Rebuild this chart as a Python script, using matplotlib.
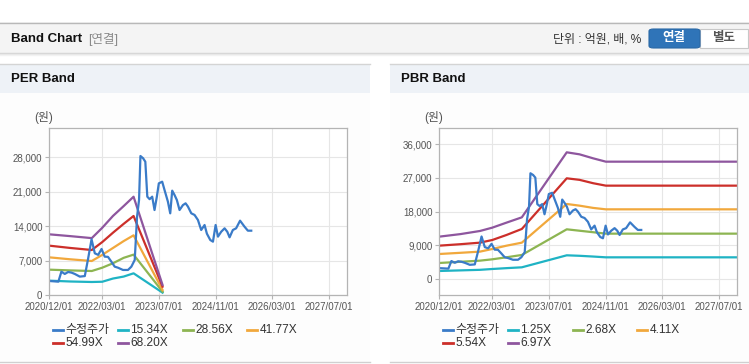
import matplotlib.pyplot as plt
import matplotlib.dates as mdates
from matplotlib.patches import Rectangle, FancyBboxPatch
from matplotlib.lines import Line2D
from matplotlib.ticker import FuncFormatter
import pandas as pd

plt.rcParams['font.family'] = ['Liberation Sans', 'Noto Sans CJK KR', 'DejaVu Sans']

# ---- data ----
price_dates = [
    "2020-12-01", "2021-02-17", "2021-03-15", "2021-04-13", "2021-05-12", "2021-06-10",
    "2021-07-08", "2021-08-20", "2021-10-02", "2021-10-31", "2021-11-29", "2021-12-27",
    "2022-01-25", "2022-02-23", "2022-03-22", "2022-04-19", "2022-05-18", "2022-06-16",
    "2022-07-14", "2022-08-26", "2022-10-08", "2022-11-06", "2022-12-05", "2022-12-25",
    "2023-01-11", "2023-01-23", "2023-02-15", "2023-03-06", "2023-03-23", "2023-04-12",
    "2023-05-04", "2023-05-24", "2023-06-13", "2023-06-30", "2023-07-29", "2023-08-18",
    "2023-09-16", "2023-10-06", "2023-10-23", "2023-11-12", "2023-12-02", "2023-12-25",
    "2024-01-23", "2024-02-15", "2024-03-06", "2024-04-04", "2024-05-02", "2024-05-31",
    "2024-06-28", "2024-07-27", "2024-08-16", "2024-09-14", "2024-10-07", "2024-10-30",
    "2024-11-19", "2024-12-17", "2025-01-15", "2025-02-07", "2025-02-27", "2025-03-27",
    "2025-04-24", "2025-05-28", "2025-07-05", "2025-08-03", "2025-09-01",
]
price_values = [
    2900, 2770, 4800, 4330, 4730, 4600,
    4330, 3790, 3900, 7500, 11360, 8520,
    8200, 9400, 7840, 7800, 6830, 5810,
    5600, 5140, 5140, 5810, 7170, 15950,
    19330, 28260, 27800, 27100, 20010, 19500,
    20010, 17300, 20010, 22710, 23050, 21360,
    19000, 16630, 21230, 20350, 19330, 17300,
    18300, 18660, 18000, 16630, 16300, 15280,
    13250, 14260, 12500, 11220, 10880, 14260,
    11900, 12900, 13590, 12900, 11760, 13250,
    13590, 15140, 13930, 13110, 13110,
]

per_labels = ["15.34X", "28.56X", "41.77X", "54.99X", "68.20X"]
per_dates = ["2020-12-01", "2021-06-01", "2021-12-01", "2022-03-01", "2022-06-01",
             "2022-09-01", "2022-11-25", "2023-08-01"]
per_values = [
    [2970, 2800, 2700, 2750, 3400, 3800, 4460, 540],
    [5200, 5050, 4930, 5600, 6500, 7600, 8250, 740],
    [7700, 7300, 6960, 8200, 9600, 11000, 12170, 1080],
    [10070, 9600, 9190, 10800, 12700, 14500, 16090, 1760],
    [12370, 12000, 11600, 13700, 16100, 18100, 20000, 2100],
]

pbr_labels = ["1.25X", "2.68X", "4.11X", "5.54X", "6.97X"]
pbr_dates = ["2020-12-01", "2021-06-01", "2021-11-15", "2022-03-01", "2022-07-01",
             "2022-11-10", "2023-12-01", "2024-03-20", "2024-07-15", "2024-11-01",
             "2027-12-01"]
pbr_values = [
    [2140, 2300, 2450, 2670, 2900, 3120, 6330, 6200, 6000, 5790, 5790],
    [4280, 4600, 4900, 5260, 5800, 6420, 13280, 12900, 12500, 12120, 12120],
    [6680, 7000, 7310, 8020, 8900, 9710, 20050, 19600, 19000, 18620, 18620],
    [8910, 9300, 9710, 10420, 11760, 13370, 26910, 26500, 25600, 24950, 24950],
    [11320, 12000, 12830, 13720, 15060, 16480, 33860, 33320, 32250, 31360, 31360],
]

x_ticks = ["2020-12-01", "2022-03-01", "2023-07-01", "2024-11-01", "2026-03-01", "2027-07-01"]
per_yticks = [0, 7000, 14000, 21000, 28000]
pbr_yticks = [0, 9000, 18000, 27000, 36000]

price_color = "#3a7bc8"
band_colors = ["#1fb3c4", "#8db552", "#f1a83c", "#cc2f2a", "#8e569e"]

# ---- figure / page furniture ----
W, H = 749, 364
fig = plt.figure(figsize=(W / 100, H / 100), dpi=100)


def rect(x0, y0, x1, y1, **kw):
    fig.patches.append(Rectangle((x0 / W, 1 - y1 / H), (x1 - x0) / W, (y1 - y0) / H,
                                 transform=fig.transFigure, zorder=-5, **kw))


def hline(x0, x1, y, color, lw=1.0):
    fig.add_artist(Line2D([x0 / W, x1 / W], [1 - y / H, 1 - y / H], color=color, lw=lw,
                          zorder=-4))


def text(x, y, s, **kw):
    fig.text(x / W, 1 - y / H, s, va="center", **kw)


# header bar
rect(0, 22, W, 53, fc="#f4f4f4", ec="none")
hline(0, W, 22.5, "#b8b8b8")
hline(0, W, 53, "#d4d4d4")
hline(0, W, 54, "#e6e6e6")
hline(0, W, 55, "#f2f2f2")
text(11, 39, "Band Chart", fontsize=9.5, fontweight="bold", color="#111111")
text(88, 39, "[연결]", fontsize=9, color="#8a8a8a")
text(641, 39, "단위 : 억원, 배, %", fontsize=8.6, color="#333333", ha="right")
fig.patches.append(FancyBboxPatch((649 / W, 1 - 48 / H), 51 / W, 19 / H,
                                  boxstyle="round,pad=0,rounding_size=0.006",
                                  transform=fig.transFigure, fc="#2f74b8", ec="#2a68a6",
                                  lw=0.8, zorder=-3))
rect(700, 29, 748, 48, fc="white", ec="#c8c8c8", lw=0.8)
text(674, 38.5, "연결", fontsize=9, fontweight="bold", color="white", ha="center")
text(724, 38.5, "별도", fontsize=9, fontweight="bold", color="#555555", ha="center")

# panels
for x0, x1, title in [(0, 370, "PER Band"), (390, W, "PBR Band")]:
    rect(x0, 64, x1, 93, fc="#eef2f7", ec="none")
    hline(x0, x1, 64, "#d4d4d4")
    rect(x0, 93, x1, 362, fc="#fdfdfd", ec="none")
    hline(x0, x1, 362, "#d0d0d0")
    text(x0 + 11, 79, title, fontsize=9.5, fontweight="bold", color="#111111")


def draw_panel(left_px, yticks, ylim, b_dates, b_values, b_labels):
    ax = fig.add_axes([left_px / W, (H - 295.3) / H, 297.5 / W, 167 / H])
    ax.set_zorder(5)
    ax.set_facecolor("white")
    bd = pd.to_datetime(b_dates)
    for vals, c in zip(b_values, band_colors):
        ax.plot(bd, vals, color=c, lw=1.6, solid_joinstyle="round")
    ax.plot(pd.to_datetime(price_dates), price_values, color=price_color, lw=1.6,
            solid_joinstyle="round")
    ax.set_xlim(pd.Timestamp("2020-12-01"), pd.Timestamp("2027-12-01"))
    ax.set_ylim(*ylim)
    ax.set_xticks(pd.to_datetime(x_ticks))
    ax.xaxis.set_major_formatter(mdates.DateFormatter("%Y/%m/%d"))
    ax.set_yticks(yticks)
    ax.yaxis.set_major_formatter(FuncFormatter(lambda v, p: f"{int(v):,}"))
    ax.grid(color="#e6e6e6", lw=0.8)
    ax.set_axisbelow(True)
    for s in ax.spines.values():
        s.set_color("#b4b4b4")
        s.set_linewidth(0.9)
    ax.tick_params(axis="both", length=3, width=0.8, color="#b4b4b4", labelsize=7,
                   labelcolor="#555555", pad=2)
    text(left_px - 6, 117, "(원)", fontsize=8.5, color="#555555", ha="center")

    # legend
    names = ["수정주가"] + b_labels
    colors = [price_color] + band_colors
    cols = [0, 65, 130, 194]
    for i, (n, c) in enumerate(zip(names, colors)):
        x = left_px + 4 + cols[i % 4]
        y = 330 if i < 4 else 343.3
        fig.add_artist(Line2D([x / W, (x + 10) / W], [1 - y / H] * 2, color=c, lw=2))
        text(x + 12, y, n, fontsize=8.6, color="#333333")
    return ax


draw_panel(49.3, per_yticks, (0, 33880), per_dates, per_values, per_labels)
draw_panel(439.3, pbr_yticks, (-4360, 40280), pbr_dates, pbr_values, pbr_labels)

fig.savefig("out.png", dpi=100)
